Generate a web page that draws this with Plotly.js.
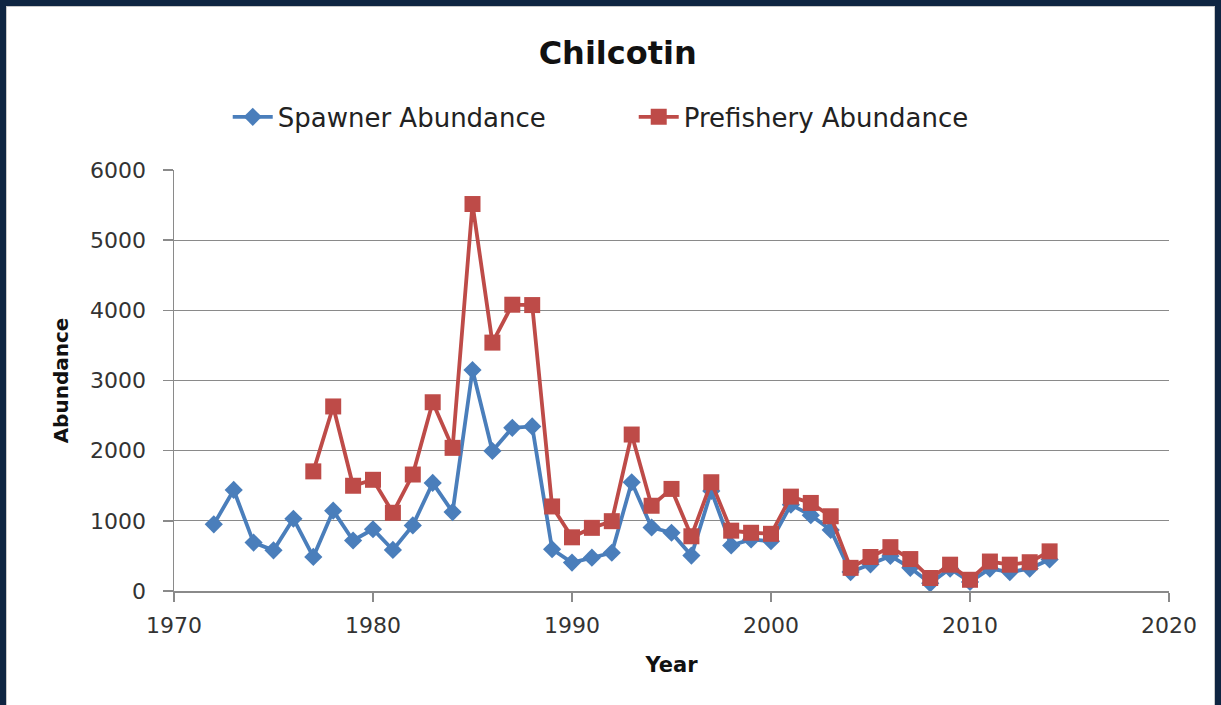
<!DOCTYPE html>
<html>
<head>
<meta charset="utf-8">
<script src="https://cdn.plot.ly/plotly-3.0.1.min.js"></script>
<style>
  html, body { margin: 0; padding: 0; background: #0F2542; width: 1221px; height: 705px; overflow: hidden; }
  #chart { position: absolute; left: 7px; top: 7px; width: 1207px; height: 698px; background: #fff; box-shadow: 0 0 0 1px #c8c8c8; }
</style>
</head>
<body>
<div id="chart"></div>
<script>
// Years
const years = [1972,1973,1974,1975,1976,1977,1978,1979,1980,1981,1982,1983,1984,1985,1986,1987,1988,1989,1990,1991,1992,1993,1994,1995,1996,1997,1998,1999,2000,2001,2002,2003,2004,2005,2006,2007,2008,2009,2010,2011,2012,2013,2014];

// Spawner Abundance
const spawner = [950,1440,690,580,1030,485,1145,720,880,585,935,1540,1125,3150,1995,2325,2345,595,405,475,545,1550,905,830,505,1425,650,735,710,1230,1080,870,270,380,500,330,110,320,130,320,270,320,450];

// Prefishery Abundance (no estimates before 1977)
const prefishery = [null,null,null,null,null,1705,2630,1500,1585,1115,1660,2690,2040,5515,3540,4080,4075,1205,765,900,995,2230,1215,1455,780,1550,860,830,815,1345,1255,1065,330,485,625,455,185,375,160,420,375,410,565];

const chartTitle = "Chilcotin";
const xTitle = "Year";
const yTitle = "Abundance";
const seriesNames = ["Spawner Abundance", "Prefishery Abundance"];

const FONT = "DejaVu Sans, Open Sans, sans-serif";

const traces = [
  {
    x: years, y: spawner, name: seriesNames[0], type: "scatter", mode: "lines+markers",
    line: { color: "#4A7EBB", width: 3.8 },
    marker: { symbol: "diamond", size: 14, color: "#4A7EBB" }
  },
  {
    x: years, y: prefishery, name: seriesNames[1], type: "scatter", mode: "lines+markers",
    connectgaps: false,
    line: { color: "#BE4B48", width: 3.8 },
    marker: { symbol: "square", size: 16, color: "#BE4B48" }
  }
];

const layout = {
  width: 1207, height: 698,
  paper_bgcolor: "#ffffff", plot_bgcolor: "#ffffff",
  margin: { l: 167, r: 45, t: 163, b: 114 },
  font: { family: FONT, color: "#222", size: 21 },
  title: {
    text: "<b>" + chartTitle + "</b>",
    font: { family: FONT, size: 32, color: "#111" },
    x: 0.506, xref: "container", xanchor: "center",
    y: 0.935, yref: "container", yanchor: "middle"
  },
  showlegend: true,
  legend: {
    orientation: "h", x: 0.054, xanchor: "left", y: 1.126, yanchor: "middle",
    font: { family: FONT, size: 26, color: "#222" },
    bgcolor: "rgba(0,0,0,0)", itemwidth: 40, entrywidth: 351
  },
  xaxis: {
    range: [1970, 2020], dtick: 10, tick0: 1970,
    showgrid: false, zeroline: false,
    showline: true, linecolor: "#8a8a8a", linewidth: 1.5,
    ticks: "outside", ticklen: 9, tickcolor: "#8a8a8a", tickwidth: 1.5,
    ticklabelstandoff: 5,
    tickfont: { family: FONT, size: 22, color: "#333" },
    title: { text: "<b>" + xTitle + "</b>", font: { family: FONT, size: 21, color: "#111" }, standoff: 20 }
  },
  yaxis: {
    range: [0, 6000], dtick: 1000, tick0: 0,
    showgrid: true, gridcolor: "#8a8a8a", gridwidth: 1.2,
    zeroline: false,
    showline: true, linecolor: "#8a8a8a", linewidth: 1.5,
    ticks: "outside", ticklen: 10, tickcolor: "#8a8a8a", tickwidth: 1.5,
    ticklabelstandoff: 12,
    tickfont: { family: FONT, size: 22, color: "#333" },
    title: { text: "<b>" + yTitle + "</b>", font: { family: FONT, size: 20, color: "#111" }, standoff: 16 }
  }
};

Plotly.newPlot("chart", traces, layout, { staticPlot: true, displayModeBar: false });
</script>
</body>
</html>
